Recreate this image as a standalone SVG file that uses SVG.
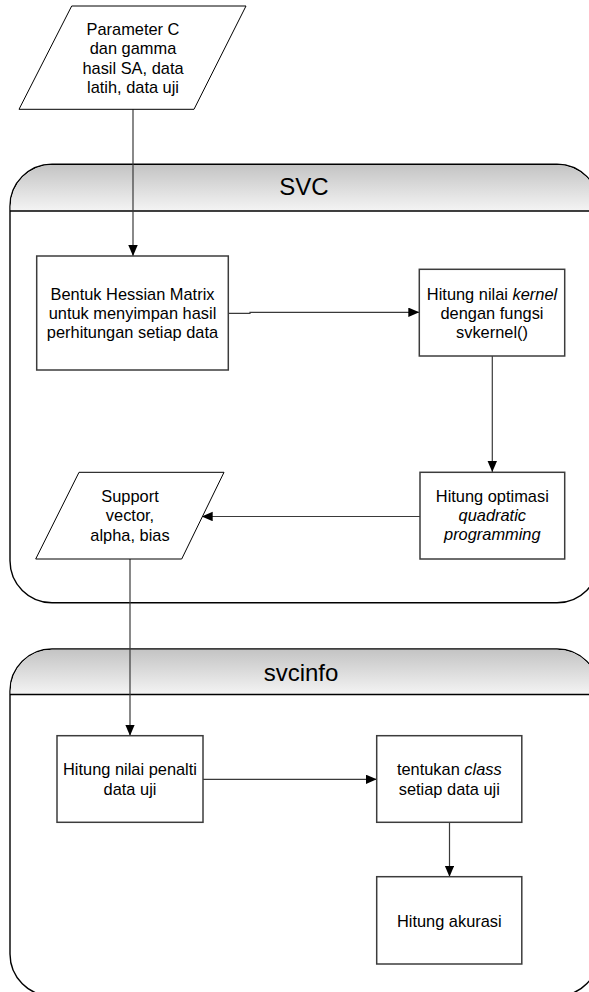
<svg xmlns="http://www.w3.org/2000/svg" width="589" height="992" viewBox="0 0 589 992">
<style>
.txt{font-family:"Liberation Sans",Arial,sans-serif;font-size:16.4px;fill:#000;text-anchor:middle}
.title{font-family:"Liberation Sans",Arial,sans-serif;font-size:24px;fill:#000;text-anchor:middle}
.box{fill:#fff;stroke:#3c3c3c;stroke-width:1.5}
.para{fill:#fff;stroke:#000;stroke-width:1}
.cont{fill:#fff;stroke:#000;stroke-width:1.4}
.hdr{fill:url(#hg);stroke:none}
.div{stroke:#000;stroke-width:1.4;fill:none}
.conn{fill:none;stroke:#3a3a3a;stroke-width:1.2}
</style>
<defs>
<linearGradient id="hg" x1="0" y1="0" x2="0" y2="1">
<stop offset="0" stop-color="#c4c4c4"/>
<stop offset="1" stop-color="#f4f4f4"/>
</linearGradient>
<marker id="ah" markerUnits="userSpaceOnUse" markerWidth="12" markerHeight="10" refX="11" refY="4.75" orient="auto">
<path d="M0,0 L11,4.75 L0,9.5 Z" fill="#000"/>
</marker>
</defs>

<g id="svc-container">
<path class="cont" d="M10,206.3 A42,42 0 0 1 52,164.3 H557 A42,42 0 0 1 599,206.3 V560.7 A42,42 0 0 1 557,602.7 H52 A42,42 0 0 1 10,560.7 Z"/>
<path class="hdr" d="M10.7,211 V206.3 A41.3,41.3 0 0 1 52,165 H557 A41.3,41.3 0 0 1 598.3,206.3 V211 Z"/>
<line class="div" x1="10" y1="211" x2="599" y2="211"/>
<text class="title" x="304" y="195.3">SVC</text>
</g>

<g id="svcinfo-container">
<path class="cont" d="M10,691 A42,42 0 0 1 52,649 H557 A42,42 0 0 1 599,691 V954 A42,42 0 0 1 557,996 H52 A42,42 0 0 1 10,954 Z"/>
<path class="hdr" d="M10.7,694.5 V691 A41.3,41.3 0 0 1 52,649.7 H557 A41.3,41.3 0 0 1 598.3,691 V694.5 Z"/>
<line class="div" x1="10" y1="694.5" x2="599" y2="694.5"/>
<text class="title" x="301" y="681">svcinfo</text>
</g>

<g id="connectors">
<line class="conn" x1="133" y1="109.3" x2="133" y2="256" marker-end="url(#ah)"/>
<path class="conn" d="M228.3,313.3 H250 V312.3 H419.3" marker-end="url(#ah)"/>
<line class="conn" x1="492.3" y1="356" x2="492.3" y2="472" marker-end="url(#ah)"/>
<line class="conn" x1="420" y1="516.5" x2="201.7" y2="516.5" marker-end="url(#ah)"/>
<line class="conn" x1="130" y1="559" x2="130" y2="735.7" marker-end="url(#ah)"/>
<line class="conn" x1="203" y1="779.3" x2="376.7" y2="779.3" marker-end="url(#ah)"/>
<line class="conn" x1="449.5" y1="822.3" x2="449.5" y2="876.7" marker-end="url(#ah)"/>
</g>

<g id="input-params">
<polygon class="para" points="71.7,6 246,6 194,109.3 19,109.3"/>
<text class="txt" x="133" y="35">Parameter C</text>
<text class="txt" x="133" y="54.3">dan gamma</text>
<text class="txt" x="133" y="73.6">hasil SA, data</text>
<text class="txt" x="133" y="92.9">latih, data uji</text>
</g>

<g id="hessian">
<rect class="box" x="36.7" y="256" width="191.6" height="114"/>
<text class="txt" x="132.5" y="299.5">Bentuk Hessian Matrix</text>
<text class="txt" x="132.5" y="318.5">untuk menyimpan hasil</text>
<text class="txt" x="132.5" y="337.5">perhitungan setiap data</text>
</g>

<g id="kernel">
<rect class="box" x="419.3" y="269.3" width="145.4" height="86.7"/>
<text class="txt" x="492" y="299.5">Hitung nilai <tspan font-style="italic">kernel</tspan></text>
<text class="txt" x="492" y="318.5">dengan fungsi</text>
<text class="txt" x="492" y="337.5">svkernel()</text>
</g>

<g id="quadratic">
<rect class="box" x="420" y="472.3" width="144.7" height="86.7"/>
<text class="txt" x="492.3" y="502">Hitung optimasi</text>
<text class="txt" x="492.3" y="521" font-style="italic">quadratic</text>
<text class="txt" x="492.3" y="540" font-style="italic">programming</text>
</g>

<g id="support-vector">
<polygon class="para" points="79,472.3 224,472.3 181.7,559 35.7,559"/>
<text class="txt" x="130" y="501.5">Support</text>
<text class="txt" x="130" y="521">vector,</text>
<text class="txt" x="130" y="540.5">alpha, bias</text>
</g>

<g id="penalti">
<rect class="box" x="57" y="735.7" width="146" height="86.6"/>
<text class="txt" x="130" y="774.5">Hitung nilai penalti</text>
<text class="txt" x="130" y="794.5">data uji</text>
</g>

<g id="class">
<rect class="box" x="376.7" y="735.7" width="145.1" height="86.6"/>
<text class="txt" x="449.3" y="775">tentukan <tspan font-style="italic">class</tspan></text>
<text class="txt" x="449.3" y="794.5">setiap data uji</text>
</g>

<g id="akurasi">
<rect class="box" x="376.7" y="876.7" width="145.1" height="87.3"/>
<text class="txt" x="449.3" y="927">Hitung akurasi</text>
</g>
</svg>
